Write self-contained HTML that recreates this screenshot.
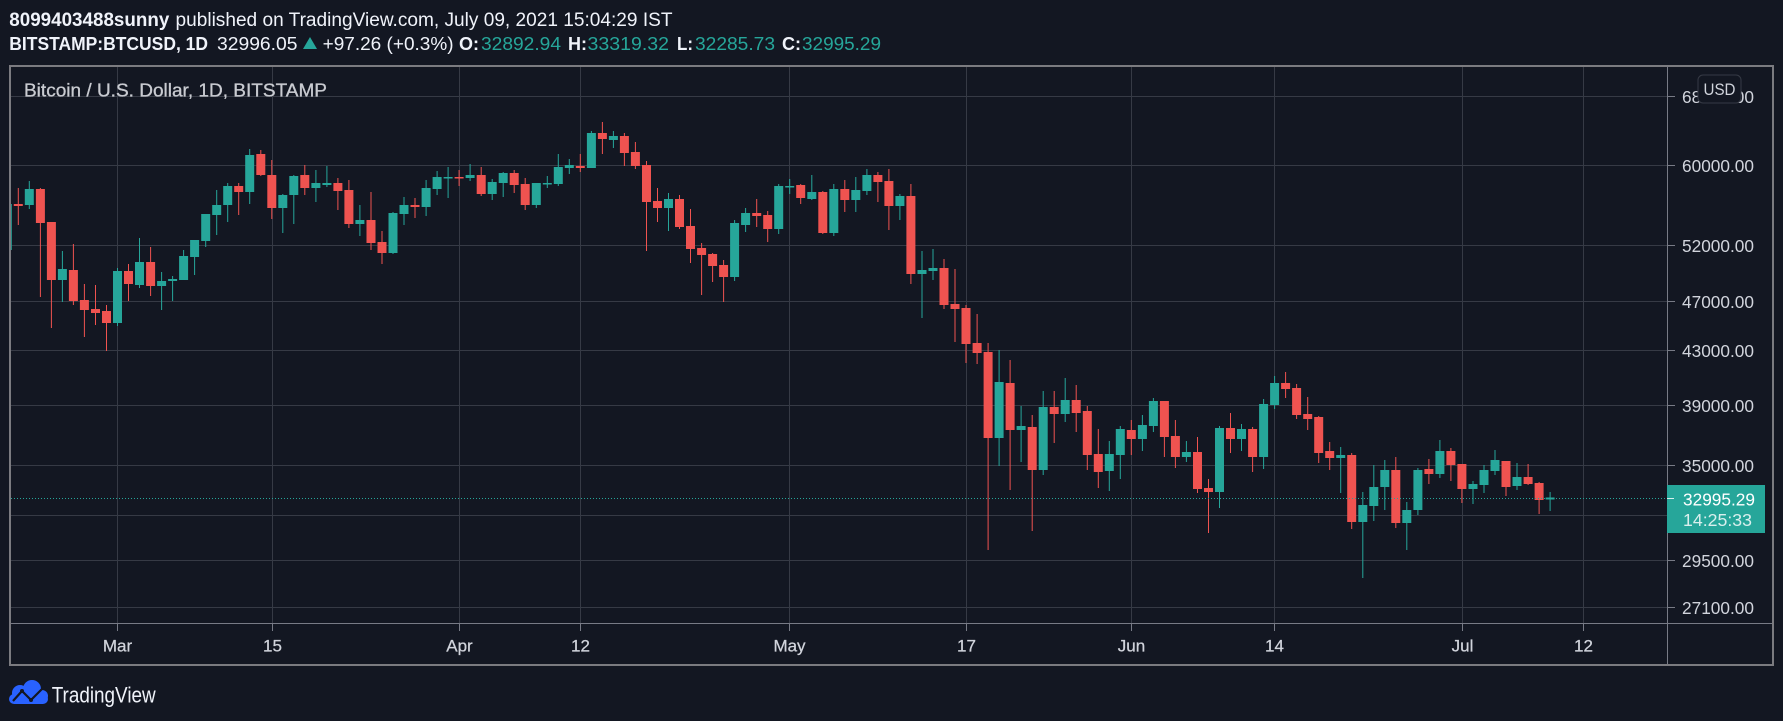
<!DOCTYPE html>
<html><head><meta charset="utf-8"><style>
html,body{margin:0;padding:0;background:#131722;}
svg{display:block;}
text{font-family:"Liberation Sans",Arial,sans-serif;}
</style></head><body>
<svg width="1783" height="721" viewBox="0 0 1783 721" xmlns="http://www.w3.org/2000/svg">
<defs><clipPath id="ca"><rect x="11" y="67" width="1656" height="556"/></clipPath></defs>
<rect width="1783" height="721" fill="#131722"/>
<!-- header -->
<text x="9.3" y="26" font-size="19" font-weight="bold" fill="#f0f3fa" textLength="160" lengthAdjust="spacingAndGlyphs">8099403488sunny</text>
<text x="175.5" y="26" font-size="19" fill="#f0f3fa" textLength="497" lengthAdjust="spacingAndGlyphs">published on TradingView.com, July 09, 2021 15:04:29 IST</text>
<text x="9.3" y="50" font-size="18" font-weight="bold" fill="#f0f3fa" textLength="198.7" lengthAdjust="spacingAndGlyphs">BITSTAMP:BTCUSD, 1D</text>
<text x="217" y="50" font-size="18" fill="#f0f3fa" textLength="80.5" lengthAdjust="spacingAndGlyphs">32996.05</text>
<polygon points="303,49 317,49 310,37" fill="#26a69a"/>
<text x="322.6" y="50" font-size="18" fill="#f0f3fa" textLength="131" lengthAdjust="spacingAndGlyphs">+97.26 (+0.3%)</text>
<text x="459" y="50" font-size="18" font-weight="bold" fill="#f0f3fa" textLength="20" lengthAdjust="spacingAndGlyphs">O:</text>
<text x="481" y="50" font-size="18" fill="#26a69a" textLength="80" lengthAdjust="spacingAndGlyphs">32892.94</text>
<text x="568" y="50" font-size="18" font-weight="bold" fill="#f0f3fa" textLength="19" lengthAdjust="spacingAndGlyphs">H:</text>
<text x="587.5" y="50" font-size="18" fill="#26a69a" textLength="81.5" lengthAdjust="spacingAndGlyphs">33319.32</text>
<text x="677" y="50" font-size="18" font-weight="bold" fill="#f0f3fa" textLength="16" lengthAdjust="spacingAndGlyphs">L:</text>
<text x="695" y="50" font-size="18" fill="#26a69a" textLength="80" lengthAdjust="spacingAndGlyphs">32285.73</text>
<text x="782" y="50" font-size="18" font-weight="bold" fill="#f0f3fa" textLength="19" lengthAdjust="spacingAndGlyphs">C:</text>
<text x="802" y="50" font-size="18" fill="#26a69a" textLength="79" lengthAdjust="spacingAndGlyphs">32995.29</text>

<!-- grid -->
<g stroke="#363a45" stroke-width="1" fill="none">
<path d="M11 96.5H1667M11 165.5H1667M11 245.5H1667M11 301.5H1667M11 350.5H1667M11 405.5H1667M11 465.5H1667M11 515.5H1667M11 560.5H1667M11 607.5H1667"/>
<path d="M117.5 67V623M272.5 67V623M459.5 67V623M580.5 67V623M789.5 67V623M966.5 67V623M1131.5 67V623M1274.5 67V623M1462.5 67V623M1583.5 67V623"/>
</g>

<text x="24" y="96.7" font-size="18" fill="#c9cbd1" stroke="#c9cbd1" stroke-width="0.3" textLength="303" lengthAdjust="spacingAndGlyphs">Bitcoin / U.S. Dollar, 1D, BITSTAMP</text>

<!-- candles -->
<g clip-path="url(#ca)">
<path fill="none" stroke="#26a69a" stroke-width="1" d="M7.3 204V250 M29.3 181V209 M62.4 251V302 M117.5 268V326 M139.5 238V288 M161.6 272V310 M172.6 276V301 M183.6 250V280 M194.6 240V275 M205.7 214V247 M216.7 190V235 M227.7 183V222 M249.7 149V204 M282.8 194V233 M293.8 175V224 M315.9 170V202 M326.9 166V187 M359.9 205V236 M393 212V254 M404 197V225 M426.1 180V216 M437.1 171V195 M448.1 167V198 M470.1 164V181 M492.2 179V200 M503.2 172V197 M536.3 183V208 M547.3 176V188 M558.3 154V186 M569.3 159V174 M591.4 131V168 M613.4 131V148 M668.5 193V231 M734.6 220V281 M745.6 208V232 M778.7 184V234 M789.7 179V194 M811.8 175V200 M833.8 184V236 M855.8 177V212 M866.9 169V195 M899.9 194V220 M922 251V318 M933 249V280 M999.1 350V466 M1021.1 406V462 M1043.2 391V475 M1065.2 378V422 M1109.3 441V491 M1120.3 426V479 M1142.4 415V451 M1153.4 398V432 M1186.4 441V462 M1219.5 426V508 M1241.5 424V451 M1263.6 399V469 M1274.6 376V409 M1340.7 447V493 M1362.8 492V578 M1373.8 465V521 M1384.8 460V510 M1406.8 502V550 M1417.9 468V515 M1439.9 440V478 M1473 481V504 M1484 465V493 M1495 450V475 M1517 463V490 M1550.1 492V511"/>
<path fill="#26a69a" d="M2.8 204h9V250h-9z M24.8 189h9V205h-9z M57.9 269h9V280h-9z M113 271h9V323h-9z M135 262h9V285h-9z M157.1 281h9V286h-9z M168.1 279h9V281h-9z M179.1 256h9V280h-9z M190.1 240h9V257h-9z M201.2 214h9V241h-9z M212.2 205h9V215h-9z M223.2 186h9V205h-9z M245.2 155h9V192h-9z M278.3 195h9V208h-9z M289.3 176h9V195h-9z M311.4 183h9V188h-9z M322.4 183h9V185h-9z M355.4 220h9V224h-9z M388.5 213h9V253h-9z M399.5 205h9V214h-9z M421.6 188h9V207h-9z M432.6 177h9V189h-9z M443.6 177h9V178.5h-9z M465.6 175h9V178h-9z M487.7 182h9V194h-9z M498.7 173h9V183h-9z M531.8 183h9V205h-9z M542.8 183h9V184.5h-9z M553.8 167h9V184h-9z M564.8 165h9V168h-9z M586.9 133h9V168h-9z M608.9 136h9V140h-9z M664 199h9V208h-9z M730.1 223h9V277h-9z M741.1 213h9V225h-9z M774.2 186h9V229h-9z M785.2 186h9V187.5h-9z M807.3 192h9V199h-9z M829.3 189h9V233h-9z M851.3 190h9V200h-9z M862.4 175h9V191h-9z M895.4 196h9V206h-9z M917.5 270h9V274h-9z M928.5 268h9V271h-9z M994.6 382h9V438h-9z M1016.6 426h9V430h-9z M1038.7 407h9V470h-9z M1060.7 400h9V414h-9z M1104.8 454h9V471h-9z M1115.8 429h9V455h-9z M1137.9 425h9V439h-9z M1148.9 401h9V426h-9z M1181.9 452h9V457h-9z M1215 428h9V492h-9z M1237 429h9V439h-9z M1259.1 404h9V457h-9z M1270.1 383h9V405h-9z M1336.2 455h9V458h-9z M1358.3 505h9V522h-9z M1369.3 487h9V506h-9z M1380.3 470h9V487h-9z M1402.3 510h9V523h-9z M1413.4 470h9V510h-9z M1435.4 451h9V474h-9z M1468.5 484h9V489h-9z M1479.5 470h9V485h-9z M1490.5 460h9V471h-9z M1512.5 477h9V486h-9z M1545.6 497.5h9V499.5h-9z"/>
<path fill="none" stroke="#ef5350" stroke-width="1" d="M18.3 188V225 M40.4 188V297 M51.4 222V328 M73.4 244V305 M84.4 284V337 M95.5 285V325 M106.5 305V351 M128.5 264V301 M150.6 247V296 M238.7 183V215 M260.8 150V176 M271.8 160V219 M304.8 165V195 M337.9 178V210 M348.9 180V228 M371 192V250 M382 231V264 M415 198V218 M459.1 170V186 M481.2 167V196 M514.2 170V193 M525.2 178V210 M580.3 154V172 M602.4 122V154 M624.4 133V166 M635.4 142V169 M646.5 161V251 M657.5 188V222 M679.5 195V229 M690.5 209V263 M701.6 243V295 M712.6 253V282 M723.6 260V302 M756.7 199V227 M767.7 211V242 M800.7 184V204 M822.8 191V234 M844.8 180V212 M877.9 172V202 M888.9 169V230 M910.9 184V284 M944 259V309 M955 269V342 M966 305V363 M977.1 314V364 M988.1 343V550 M1010.1 360V490 M1032.2 415V531 M1054.2 391V443 M1076.2 385V432 M1087.3 406V470 M1098.3 429V488 M1131.3 420V455 M1164.4 401V457 M1175.4 420V468 M1197.5 437V493 M1208.5 479V533 M1230.5 413V453 M1252.6 427V472 M1285.6 372V398 M1296.6 384V419 M1307.7 397V430 M1318.7 416V463 M1329.7 442V470 M1351.7 453V529 M1395.8 457V528 M1428.9 459V484 M1450.9 448V481 M1461.9 464V503 M1506 461V496 M1528.1 464V485 M1539.1 482V514"/>
<path fill="#ef5350" d="M13.8 204h9V206h-9z M35.9 189h9V223h-9z M46.9 222h9V280h-9z M68.9 270h9V301h-9z M79.9 300h9V310h-9z M91 309h9V313h-9z M102 311h9V323h-9z M124 271h9V284h-9z M146.1 262h9V286h-9z M234.2 186h9V192h-9z M256.3 154h9V175h-9z M267.3 175h9V208h-9z M300.3 175h9V188h-9z M333.4 183h9V191h-9z M344.4 190h9V224h-9z M366.5 220h9V243h-9z M377.5 242h9V253h-9z M410.5 205h9V207h-9z M454.6 177h9V178.5h-9z M476.7 175h9V194h-9z M509.7 173h9V185h-9z M520.7 184h9V205h-9z M575.8 166h9V168h-9z M597.9 133h9V139h-9z M619.9 136h9V153h-9z M630.9 152h9V166h-9z M642 165h9V202h-9z M653 201h9V208h-9z M675 199h9V227h-9z M686 226h9V249h-9z M697.1 248h9V255h-9z M708.1 254h9V266h-9z M719.1 265h9V277h-9z M752.2 213h9V216h-9z M763.2 215h9V229h-9z M796.2 185h9V198h-9z M818.3 192h9V233h-9z M840.3 189h9V200h-9z M873.4 175h9V182h-9z M884.4 181h9V206h-9z M906.4 196h9V274h-9z M939.5 268h9V305h-9z M950.5 304h9V309h-9z M961.5 308h9V344h-9z M972.6 343h9V353h-9z M983.6 352h9V438h-9z M1005.6 383h9V430h-9z M1027.7 427h9V470h-9z M1049.7 407h9V414h-9z M1071.7 400h9V413h-9z M1082.8 411h9V455h-9z M1093.8 454h9V472h-9z M1126.8 430h9V439h-9z M1159.9 401h9V437h-9z M1170.9 436h9V457h-9z M1193 452h9V489h-9z M1204 488h9V492h-9z M1226 428h9V439h-9z M1248.1 429h9V457h-9z M1281.1 383h9V389h-9z M1292.1 388h9V415h-9z M1303.2 414h9V419h-9z M1314.2 417h9V453h-9z M1325.2 451h9V458h-9z M1347.2 455h9V522h-9z M1391.3 470h9V523h-9z M1424.4 469h9V474h-9z M1446.4 451h9V465h-9z M1457.4 464h9V489h-9z M1501.5 461h9V487h-9z M1523.6 477h9V484h-9z M1534.6 483h9V500h-9z"/>
<!-- current price line -->
<path d="M11 498.5H1667" stroke="#26a69a" stroke-width="1" stroke-dasharray="1 2"/>
</g>

<!-- axes -->
<g stroke="#787b86" stroke-width="1" fill="none">
<path d="M1667.5 66V665"/>
<path d="M10 623.5H1773"/>
<path d="M1667 96.5h8M1667 165.5h8M1667 245.5h8M1667 301.5h8M1667 350.5h8M1667 405.5h8M1667 465.5h8M1667 560.5h8M1667 607.5h8"/>
<path d="M117.5 623V631M272.5 623V631M459.5 623V631M580.5 623V631M789.5 623V631M966.5 623V631M1131.5 623V631M1274.5 623V631M1462.5 623V631M1583.5 623V631"/>
</g>

<!-- price labels -->
<g font-size="17.5" fill="#d1d4dc">
<text x="1682" y="103" textLength="72" lengthAdjust="spacingAndGlyphs">68000.00</text>
<text x="1682" y="172" textLength="72" lengthAdjust="spacingAndGlyphs">60000.00</text>
<text x="1682" y="252" textLength="72" lengthAdjust="spacingAndGlyphs">52000.00</text>
<text x="1682" y="308" textLength="72" lengthAdjust="spacingAndGlyphs">47000.00</text>
<text x="1682" y="357" textLength="72" lengthAdjust="spacingAndGlyphs">43000.00</text>
<text x="1682" y="412" textLength="72" lengthAdjust="spacingAndGlyphs">39000.00</text>
<text x="1682" y="472" textLength="72" lengthAdjust="spacingAndGlyphs">35000.00</text>
<text x="1682" y="567" textLength="72" lengthAdjust="spacingAndGlyphs">29500.00</text>
<text x="1682" y="614" textLength="72" lengthAdjust="spacingAndGlyphs">27100.00</text>
</g>

<!-- USD badge -->
<rect x="1698" y="75" width="43" height="28" rx="5" ry="5" fill="#131722" stroke="#363a45" stroke-width="1"/>
<text x="1719.5" y="95" font-size="17" fill="#d1d4dc" text-anchor="middle" textLength="32" lengthAdjust="spacingAndGlyphs">USD</text>

<!-- last price label -->
<rect x="1667" y="485" width="98" height="48" fill="#26a69a"/>
<path d="M1667 498.5h7" stroke="#d8f0ee" stroke-width="1"/>
<text x="1683" y="505.5" font-size="17.5" fill="#ffffff" textLength="72" lengthAdjust="spacingAndGlyphs">32995.29</text>
<text x="1683" y="526" font-size="17.5" fill="#d9efed" textLength="69" lengthAdjust="spacingAndGlyphs">14:25:33</text>

<!-- time labels -->
<g font-size="17" fill="#d1d4dc" stroke="#d1d4dc" stroke-width="0.25" text-anchor="middle">
<text x="117.5" y="651.5">Mar</text>
<text x="272.5" y="651.5">15</text>
<text x="459.5" y="651.5">Apr</text>
<text x="580.5" y="651.5">12</text>
<text x="789.5" y="651.5">May</text>
<text x="966.5" y="651.5">17</text>
<text x="1131.5" y="651.5">Jun</text>
<text x="1274.5" y="651.5">14</text>
<text x="1462.5" y="651.5">Jul</text>
<text x="1583.5" y="651.5">12</text>
</g>

<!-- frame -->
<rect x="10" y="66" width="1763" height="599" fill="none" stroke="#7b7b80" stroke-width="2"/>

<!-- logo -->
<g>
<circle cx="20" cy="693" r="8" fill="#2962ff"/>
<circle cx="32" cy="689" r="9" fill="#2962ff"/>
<circle cx="42" cy="696" r="6" fill="#2962ff"/>
<rect x="9" y="694" width="39" height="10" rx="5" fill="#2962ff"/>
<polyline points="13,701 22,691 31,700 42,689" fill="none" stroke="#131722" stroke-width="2.2"/>
<circle cx="22" cy="691" r="2" fill="#131722"/>
<circle cx="31" cy="700" r="2" fill="#131722"/>
</g>
<text x="51.7" y="702.7" font-size="22" fill="#f0f3fa" textLength="104" lengthAdjust="spacingAndGlyphs">TradingView</text>
</svg>
</body></html>
